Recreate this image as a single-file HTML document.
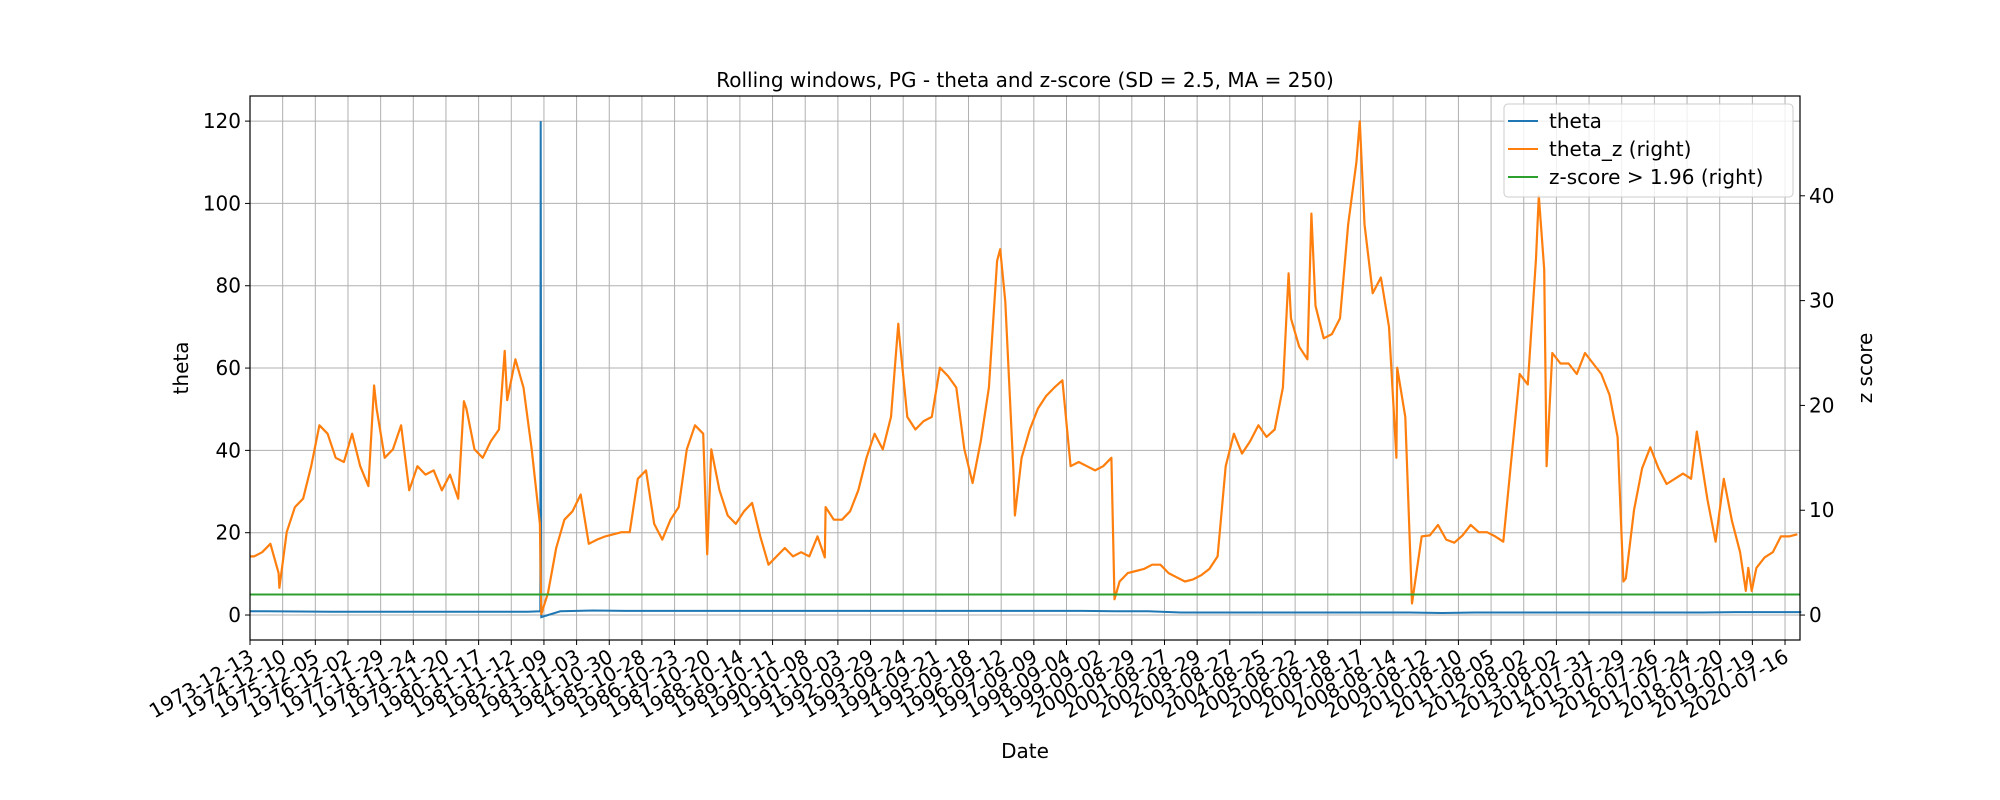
<!DOCTYPE html>
<html><head><meta charset="utf-8"><style>
html,body{margin:0;padding:0;background:#fff;}
svg{display:block;font-family:"DejaVu Sans","Liberation Sans",sans-serif;}
</style></head><body>
<svg id="chart" width="2000" height="800" viewBox="0 0 2000 800">
<rect width="2000" height="800" fill="#fff"/>
<g id="grid"></g>
<g id="series"></g>
<rect x="250" y="96" width="1550" height="544" fill="none" stroke="#000" stroke-width="1.2"/>
<g id="axes"></g>
<text x="1025" y="87" font-size="20" text-anchor="middle">Rolling windows, PG - theta and z-score (SD = 2.5, MA = 250)</text>
<text x="1025" y="758" font-size="20" text-anchor="middle">Date</text>
<text transform="translate(188,368) rotate(-90)" font-size="20" text-anchor="middle">theta</text>
<text transform="translate(1872,368) rotate(-90)" font-size="20" text-anchor="middle">z score</text>
<g>
<rect x="1504" y="104" width="289" height="93" rx="4" fill="#fff" fill-opacity="0.8" stroke="#ccc" stroke-width="1"/>
<line x1="1508" y1="121" x2="1538" y2="121" stroke="#1f77b4" stroke-width="2"/>
<text x="1549" y="128" font-size="20">theta</text>
<line x1="1508" y1="149" x2="1538" y2="149" stroke="#ff7f0e" stroke-width="2"/>
<text x="1549" y="156" font-size="20">theta_z (right)</text>
<line x1="1508" y1="177" x2="1538" y2="177" stroke="#2ca02c" stroke-width="2"/>
<text x="1549" y="184" font-size="20">z-score &gt; 1.96 (right)</text>
</g>
</svg>
<script>
const tickLabels=["1973-12-13","1974-12-10","1975-12-05","1976-12-02","1977-11-29","1978-11-24","1979-11-20","1980-11-17","1981-11-12","1982-11-09","1983-11-03","1984-10-30","1985-10-28","1986-10-23","1987-10-20","1988-10-14","1989-10-11","1990-10-08","1991-10-03","1992-09-29","1993-09-24","1994-09-21","1995-09-18","1996-09-12","1997-09-09","1998-09-04","1999-09-02","2000-08-29","2001-08-27","2002-08-29","2003-08-27","2004-08-25","2005-08-22","2006-08-18","2007-08-17","2008-08-14","2009-08-12","2010-08-10","2011-08-05","2012-08-02","2013-08-02","2014-07-31","2015-07-29","2016-07-26","2017-07-24","2018-07-20","2019-07-19","2020-07-16"];
const leftTicks=[0,20,40,60,80,100,120];
const rightTicks=[0,10,20,30,40];
// theta_z quarterly values (4 per year from 1973-12)
const thetaZQuarterly=[
5.6,6.0,6.8,4.0, 7.9,10.3,11.1,14.2, 18.1,17.3,15.0,14.6, 17.3,14.2,12.3,19.7,
15.0,15.8,18.1,11.9, 14.2,13.4,13.8,11.9, 13.4,11.1,19.7,15.8, 15.0,16.6,17.7,20.5,
24.4,21.7,15.8,8.7, 2.1,6.4,9.1,9.9, 11.5,6.8,7.2,7.5, 7.7,7.9,7.9,13.0,
13.8,8.7,7.2,9.1, 10.3,15.8,18.1,17.3, 15.8,11.9,9.5,8.7, 9.9,10.7,7.5,4.8,
5.6,6.4,5.6,6.0, 5.6,7.5,10.3,9.1, 9.1,9.9,11.9,15.0, 17.3,15.8,18.9,26.8,
18.9,17.7,18.5,18.9, 23.6,22.8,21.7,15.8, 12.6,16.6,21.7,33.8, 29.9,13.8,15.0,17.7,
19.7,20.9,21.7,22.4, 14.2,14.6,14.2,13.8, 14.2,15.0,3.2,4.0, 4.2,4.4,4.8,4.8,
4.0,3.6,3.2,3.4, 3.8,4.4,5.6,14.2, 17.3,15.4,16.6,18.1, 17.0,17.7,21.7,28.3,
25.6,24.4,29.5,26.4, 26.8,28.3,37.3,43.2, 37.3,30.7,32.2,27.5, 23.6,18.9,2.1,7.5,
7.6,8.6,7.2,6.9, 7.6,8.6,7.9,7.9, 7.5,7.0,15.0,23.0, 22.0,34.0,33.0,25.0,
24.0,24.0,23.0,25.0, 24.0,23.0,21.0,17.0, 3.5,10.0,14.0,16.0, 14.0,12.5,13.0,13.5,
13.0,16.0,11.0,7.0, 13.0,9.0,6.0,4.5, 4.5,5.5,6.0,7.5, 7.5,7.7];
// notable spikes/dips: position in years since 1973-12-13, and value
const spikeYears=[0.9,3.8,6.55,7.8,8.92,14.0,17.6,19.85,22.97,23.42,26.47,31.8,32.5,33.98,35.1,35.58,39.46,39.7,42.05,44.3,45.8,45.98];
const spikeZ=[2.6,21.9,20.4,25.2,0.1,5.8,5.5,27.8,34.9,9.5,1.5,32.6,38.3,47.1,15.0,1.1,40.0,14.2,3.2,17.5,2.3,2.3];
// theta (left axis), yearly values, plus outlier
const thetaYearly=[0.9,0.85,0.8,0.8,0.8,0.8,0.8,0.8,0.8,0.9,1.1,1.0,1.0,1.0,1.0,1.0,1.0,1.0,1.0,1.0,1.0,1.0,1.0,1.0,1.0,1.0,0.9,0.9,0.6,0.6,0.6,0.6,0.6,0.6,0.6,0.6,0.5,0.6,0.6,0.6,0.6,0.6,0.6,0.6,0.6,0.7,0.7,0.7];
const thetaSpikeYear=[8.89,8.9,8.92];
const thetaSpikeVal=[0.9,120,-0.5];
const zThreshold=1.96;

const NS="http://www.w3.org/2000/svg";
const X0=250,X1=1800,Y0=96,Y1=640,YEAR_PX=32.66;
const xS=t=>X0+t*YEAR_PX;
const yL=v=>Y1-(v+6.07)/132.17*(Y1-Y0);
const yR=v=>Y1-(v+2.38)/51.9*(Y1-Y0);
function mk(tag,attrs,parent){const e=document.createElementNS(NS,tag);for(const k in attrs)e.setAttribute(k,attrs[k]);parent.appendChild(e);return e;}
const grid=document.getElementById('grid'),axes=document.getElementById('axes'),series=document.getElementById('series');

tickLabels.forEach((lab,i)=>{
  const x=xS(i);
  const g=mk('line',{x1:x,y1:Y0,x2:x,y2:Y1,stroke:'#b0b0b0','stroke-width':1},grid);
  
  
  const t=mk('line',{x1:x,y1:Y1,x2:x,y2:Y1+5,stroke:'#000','stroke-width':1},axes);
  
  
  const tx=mk('text',{x:x,y:Y1+22,'font-size':20,'text-anchor':'end',transform:`rotate(-30 ${x} ${Y1+12})`},axes);
  tx.textContent=lab;
  
  
});
leftTicks.forEach(v=>{
  const y=yL(v);
  const g=mk('line',{x1:X0,y1:y,x2:X1,y2:y,stroke:'#b0b0b0','stroke-width':1},grid);
  
  
  const t=mk('line',{x1:X0-5,y1:y,x2:X0,y2:y,stroke:'#000','stroke-width':1},axes);
  
  
  const tx=mk('text',{x:X0-9,y:y+7,'font-size':20,'text-anchor':'end'},axes);
  tx.textContent=v;
  
  
});
rightTicks.forEach(v=>{
  const y=yR(v);
  const t=mk('line',{x1:X1,y1:y,x2:X1+5,y2:y,stroke:'#000','stroke-width':1},axes);
  
  
  const tx=mk('text',{x:X1+9,y:y+7,'font-size':20,'text-anchor':'start'},axes);
  tx.textContent=v;
  
  
});

// theta line
let tp=thetaYearly.map((v,i)=>[i+0.5,v]);
thetaSpikeYear.forEach((t,i)=>tp.push([t,thetaSpikeVal[i]]));
tp.sort((a,b)=>a[0]-b[0]);
tp.unshift([0,thetaYearly[0]]);tp.push([47.46,thetaYearly[thetaYearly.length-1]]);
const thetaLine=mk('polyline',{points:tp.map(p=>xS(p[0]).toFixed(1)+','+yL(p[1]).toFixed(1)).join(' '),fill:'none',stroke:'#1f77b4','stroke-width':2},series);



// theta_z line
let zp=thetaZQuarterly.map((v,i)=>[i/4+0.125,v]);
spikeYears.forEach((t,i)=>zp.push([t,spikeZ[i]]));
zp.sort((a,b)=>a[0]-b[0]);
zp.unshift([0,thetaZQuarterly[0]]);
const zLine=mk('polyline',{points:zp.map(p=>xS(p[0]).toFixed(1)+','+yR(p[1]).toFixed(1)).join(' '),fill:'none',stroke:'#ff7f0e','stroke-width':2.2,'stroke-linejoin':'round'},series);



// threshold
const th=mk('line',{x1:X0,y1:yR(zThreshold),x2:X1,y2:yR(zThreshold),stroke:'#2ca02c','stroke-width':2},series);


</script>
</body></html>
